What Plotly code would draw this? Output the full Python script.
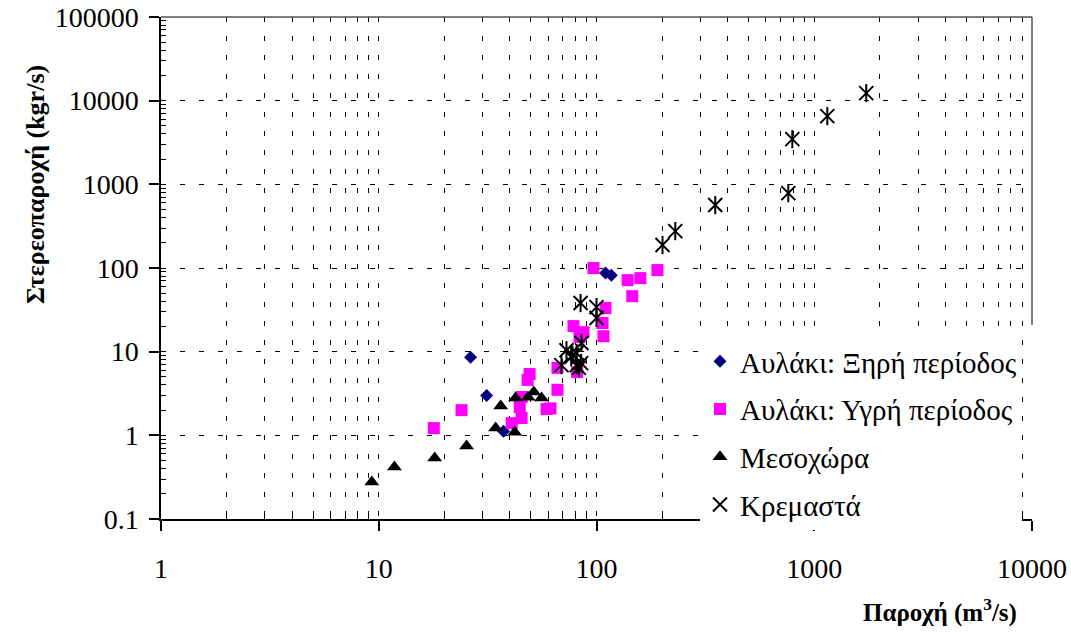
import plotly.graph_objects as go

# ---- data ----
dry_x = [26.4, 31.3, 37.4, 110, 117]
dry_y = [8.6, 3.0, 1.12, 87, 82]

wet_x = [17.9, 24.0, 40.8, 44.4, 45.3, 45.3, 48.3, 49.3, 59.0, 61.5, 66.2, 66.2,
         78.4, 81.5, 87.2, 83.6, 96.9, 106.6, 107.7, 110, 139, 146, 159, 190.5]
wet_y = [1.22, 2.0, 1.40, 2.18, 1.61, 2.87, 4.6, 5.4, 2.06, 2.1, 3.5, 6.4,
         20.2, 5.7, 17.1, 14.9, 99.8, 22, 15.3, 33.2, 71.6, 46.1, 75.7, 94.4]

meso_x = [9.29, 11.8, 18.07, 25.3, 34.4, 36.3, 42.1, 42.5, 48.5, 51.5, 55.9]
meso_y = [0.277, 0.418, 0.536, 0.745, 1.22, 2.24, 1.09, 2.79, 2.85, 3.3, 2.79]

krem_x = [69, 72.8, 76.5, 77.6, 81, 81, 83, 85, 85.3, 84.5, 100, 100,
          201, 230, 351, 760, 793, 1148, 1733]
krem_y = [6.9, 10.4, 8.6, 9.1, 9.6, 6.9, 6.4, 7.3, 12.7, 38.1, 34.1, 25.2,
          188, 276, 565, 785, 3470, 6530, 12300]

x_ticks = [1, 10, 100, 1000, 10000]
x_tick_text = ["1", "10", "100", "1000", "10000"]
y_ticks = [0.1, 1, 10, 100, 1000, 10000, 100000]
y_tick_text = ["0.1", "1", "10", "100", "1000", "10000", "100000"]

names = ["Αυλάκι: Ξηρή περίοδος", "Αυλάκι: Υγρή περίοδος", "Μεσοχώρα", "Κρεμαστά"]
x_title = "<b>Παροχή (m<sup>3</sup>/s)</b>"
y_title = "<b>Στερεοπαροχή (kgr/s)</b>"

FONT = "Liberation Serif, Times New Roman, DejaVu Serif, serif"

fig = go.Figure()
fig.add_trace(go.Scatter(x=dry_x, y=dry_y, mode="markers", name=names[0], legendgroup="a",
                         marker=dict(symbol="diamond", size=10, color="#000080")))
fig.add_trace(go.Scatter(x=wet_x, y=wet_y, mode="markers", name=names[1], legendgroup="b",
                         marker=dict(symbol="square", size=12, color="#FF00FF")))
fig.add_trace(go.Scatter(x=meso_x, y=meso_y, mode="markers", name=names[2], legendgroup="c",
                         marker=dict(symbol="triangle-up", size=13, color="black")))
fig.add_trace(go.Scatter(x=krem_x, y=krem_y, mode="markers", name=names[3], legendgroup="d",
                         marker=dict(symbol="x-thin-open", size=14, color="black",
                                     line=dict(width=2, color="black"))))
fig.add_trace(go.Scatter(x=krem_x, y=krem_y, mode="markers", name=names[3], legendgroup="d",
                         showlegend=False,
                         marker=dict(symbol="line-ns-open", size=13, color="black",
                                     line=dict(width=2, color="black"))))

def minor_vals(lo, hi):
    return [m * 10.0 ** k for k in range(lo, hi) for m in range(2, 10)]

grid_dash = "5px,14px"

fig.update_xaxes(
    type="log", range=[0, 4], automargin=False,
    tickmode="array", tickvals=x_ticks, ticktext=x_tick_text,
    ticks="outside", ticklen=10, tickwidth=1.5, tickcolor="black",
    ticklabelstandoff=14, ticklabeloverflow="allow",
    showline=True, linecolor="black", linewidth=1.5, mirror=False,
    showgrid=True, gridcolor="black", gridwidth=1, griddash=grid_dash,
    zeroline=False,
    tickfont=dict(family=FONT, size=28, color="black"),
    minor=dict(tickmode="array", tickvals=minor_vals(0, 4), ticks="inside", ticklen=5,
               tickcolor="black", tickwidth=1, showgrid=True, gridcolor="black",
               gridwidth=1, griddash=grid_dash),
)
fig.update_yaxes(
    type="log", range=[-1, 5], automargin=False,
    tickmode="array", tickvals=y_ticks, ticktext=y_tick_text,
    ticks="outside", ticklen=10, tickwidth=1.5, tickcolor="black",
    ticklabelstandoff=5, ticklabeloverflow="allow",
    showline=True, linecolor="black", linewidth=1.5, mirror=False,
    showgrid=True, gridcolor="black", gridwidth=1, griddash=grid_dash,
    zeroline=False,
    tickfont=dict(family=FONT, size=28, color="black"),
    minor=dict(tickmode="array", tickvals=minor_vals(-1, 5), ticks="inside", ticklen=5,
               tickcolor="black", tickwidth=1, showgrid=False),
)

fig.update_layout(
    width=1071, height=632,
    margin=dict(l=161, r=39, t=17, b=113, autoexpand=False),
    paper_bgcolor="white", plot_bgcolor="white",
    font=dict(family=FONT, color="black"),
    showlegend=True,
    legend=dict(x=(700 - 161) / 871, y=(519 - 336) / 502, xanchor="left", yanchor="top",
                bgcolor="white", borderwidth=0,
                font=dict(family=FONT, size=29, color="black"),
                traceorder="grouped", tracegroupgap=7,
                itemsizing="trace"),
    shapes=[
        # plot-area frame: top edge and the visible part of the right edge
        dict(type="line", xref="paper", yref="paper", x0=0, x1=1, y0=1, y1=1,
             line=dict(color="#555555", width=1.5), layer="above"),
        dict(type="line", xref="paper", yref="paper", x0=1, x1=1, y0=1, y1=(519 - 325) / 502,
             line=dict(color="black", width=1), layer="above"),
    ],
    annotations=[
        dict(text=x_title, xref="paper", yref="paper", x=(940 - 161) / 871, y=(519 - 610) / 502,
             xanchor="center", yanchor="middle", showarrow=False,
             font=dict(family=FONT, size=25, color="black")),
        dict(text=y_title, xref="paper", yref="paper", x=(35 - 161) / 871, y=(519 - 185) / 502,
             xanchor="center", yanchor="middle", showarrow=False, textangle=-90,
             font=dict(family=FONT, size=26, color="black")),
    ],
)

fig.write_html(
    "out.html",
    config={"displayModeBar": False},
    post_script="document.body.style.margin='0';document.body.style.overflow='hidden';",
)
